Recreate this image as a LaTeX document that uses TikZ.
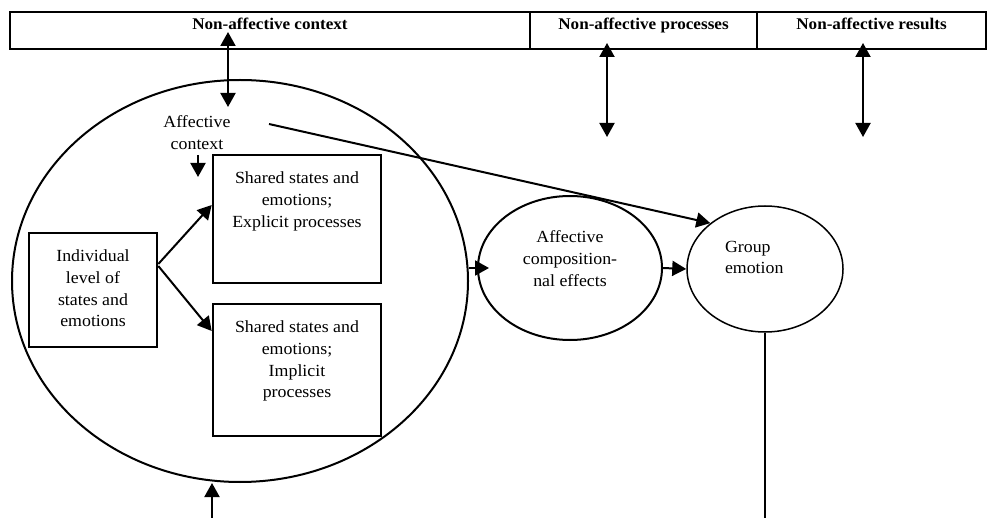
\documentclass[tikz,border=0pt]{standalone}
\usepackage{fontspec}
\setmainfont{Liberation Serif}[FakeStretch=1.05]
\usepackage{tikz}
\usetikzlibrary{shapes, arrows.meta, positioning}

\begin{document}
\begin{tikzpicture}[x=1pt, y=-1pt, >={Triangle[length=14pt, width=15pt]}, line width=2pt,
    cell/.style={draw, rectangle, inner sep=0pt, minimum height=37},
    box/.style={draw, rectangle, line width=2.6pt, inner sep=0pt},
    oval/.style={draw, ellipse, inner sep=0pt},
    txt/.style={align=center, inner sep=0pt, font=\fontsize{17}{21.7}\selectfont},
    head/.style={inner sep=0pt, anchor=base, font=\fontsize{16.3}{18}\selectfont\bfseries}]
    \useasboundingbox (0,0) rectangle (987,518);

    % 表头
    \node[cell, minimum width=520] (ctx) at (270,30.5) {};
    \node[cell, minimum width=227] (proc) at (643.5,30.5) {};
    \node[cell, minimum width=229] (res) at (871.5,30.5) {};
    \node[head] (ctxTxt) at (270,30) {Non-affective context};
    \node[head] (procTxt) at (643.5,30) {Non-affective processes};
    \node[head] (resTxt) at (871.5,30) {Non-affective results};

    % 群体层面
    \node[oval, minimum width=456, minimum height=402] (big) at (240,281) {};
    \node[box, minimum width=128, minimum height=114] (indiv) at (93,290) {};
    \node[box, minimum width=168, minimum height=128] (expl) at (297,219) {};
    \node[box, minimum width=168, minimum height=132] (impl) at (297,370) {};
    \node[oval, minimum width=184, minimum height=144] (comp) at (570,268) {};
    \node[oval, line width=1.5pt, minimum width=156, minimum height=126] (group) at (765,269) {};

    % 文字
    \node[txt, anchor=north] (affTxt) at (197,115) {Affective\\context};
    \node[txt, anchor=north] (indivTxt) at (93,249) {Individual\\level of\\states and\\emotions};
    \node[txt, anchor=north] (explTxt) at (297,171) {Shared states and\\emotions;\\Explicit processes};
    \node[txt, anchor=north] (implTxt) at (297,320) {Shared states and\\emotions;\\Implicit\\processes};
    \node[txt, anchor=north] (compTxt) at (570,230) {Affective\\composition-\\nal effects};
    \node[txt, align=left, anchor=north west] (grpTxt) at (724,240) {Group\\emotion};

    % 双向箭头
    \coordinate (ctxA) at (228,32);
    \coordinate (ctxB) at (228,107);
    \coordinate (procA) at (607,43);
    \coordinate (procB) at (607,137);
    \coordinate (resA) at (863,43);
    \coordinate (resB) at (863,137);
    \draw[<->] (ctxA) -- (ctxB);
    \draw[<->] (procA) -- (procB);
    \draw[<->] (resA) -- (resB);

    % 箭头
    \coordinate (affA) at (198,155);
    \coordinate (affB) at (198,177);
    \draw[->] (affA) -- (affB);
    \coordinate (affStart) at (269,124);
    \draw[->] (affStart) -- (group.140);
    \draw[->] ([yshift=26pt]indiv.east) -- ([yshift=14pt]expl.west);
    \draw[->] ([yshift=24pt]indiv.east) -- ([yshift=39pt]impl.west);
    \draw[->, shorten >=-12pt] (comp.west -| big.east) -- (comp.west);
    \draw[->] (comp.east) -- (group.west);
    \coordinate (btm) at (212,518);
    \draw[->] (btm) -- (btm |- big.south);
    \draw[line width=1.2pt] (group.south) -- (group.south |- btm);
\end{tikzpicture}
\end{document}
